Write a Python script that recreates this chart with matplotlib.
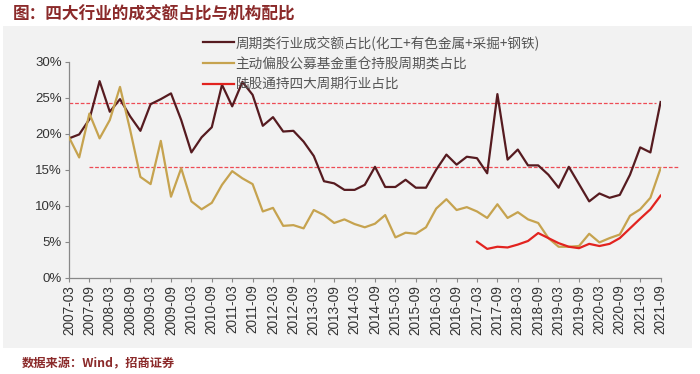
import matplotlib
matplotlib.use('Agg')
import matplotlib.pyplot as plt
from matplotlib.patches import Rectangle
import numpy as np

plt.rcParams['font.family'] = ['Noto Sans CJK SC', 'DejaVu Sans']

# Data (quarterly, 2007-03 .. 2021-09)
years = list(range(2007, 2022))
quarters = [f'{y}-{m}' for y in years for m in ['03', '06', '09', '12']][:59]
tick_labels = [q for q in quarters if q.endswith('-03') or q.endswith('-09')]

cyclical_turnover = [19.35, 19.9, 22.0, 27.3,
                     23.05, 24.8, 22.4, 20.4,
                     24.1, 24.8, 25.6, 21.9,
                     17.4, 19.5, 20.9, 26.8,
                     23.8, 27.2, 25.4, 21.1,
                     22.3, 20.3, 20.4, 18.9,
                     16.9, 13.4, 13.1, 12.2,
                     12.2, 12.9, 15.4, 12.6,
                     12.6, 13.6, 12.5, 12.5,
                     15.0, 17.1, 15.7, 16.8,
                     16.6, 14.5, 25.5, 16.4,
                     17.8, 15.6, 15.6, 14.3,
                     12.5, 15.4, 13.0, 10.6,
                     11.7, 11.1, 11.5, 14.3,
                     18.1, 17.4, 24.4]
fund_holding = [19.5, 16.7, 22.8, 19.35,
                21.9, 26.5, 20.5, 14.0,
                13.0, 19.0, 11.25, 15.2,
                10.6, 9.5, 10.4, 12.9,
                14.8, 13.8, 13.0, 9.2,
                9.7, 7.2, 7.3, 6.85,
                9.4, 8.7, 7.6, 8.1,
                7.45, 7.0, 7.5, 8.7,
                5.6, 6.25, 6.1, 7.0,
                9.6, 10.9, 9.4, 9.8,
                9.2, 8.3, 10.2, 8.3,
                9.1, 8.1, 7.6, 5.5,
                4.3, 4.3, 4.4, 6.1,
                4.9, 5.5, 6.0, 8.6,
                9.5, 11.1, 15.2]
# northbound holdings start at 2017-03
hk_connect = [5.0, 4.0, 4.3, 4.2,
              4.6, 5.1, 6.2, 5.5,
              4.8, 4.3, 4.1, 4.7,
              4.4, 4.7, 5.5, 6.85,
              8.2, 9.5, 11.4]
hk_start = quarters.index('2017-03')

upper_level = 24.3
lower_level = 15.4

labels = ['周期类行业成交额占比(化工+有色金属+采掘+钢铁)',
          '主动偏股公募基金重仓持股周期类占比',
          '陆股通持四大周期行业占比']
colors = ['#561b20', '#c6a34f', '#e2231f']

fig = plt.figure(figsize=(7.0, 3.74), dpi=100)
bg = Rectangle((3 / 700, 1 - 348 / 374), 689 / 700, 322 / 374,
               transform=fig.transFigure, facecolor='#f2f2f2',
               edgecolor='none', zorder=-10)
fig.add_artist(bg)

ax = fig.add_axes([69 / 700, 1 - 277.7 / 374, 591.6 / 700, 216 / 374])
ax.patch.set_alpha(0)

x = np.arange(len(quarters))
ax.plot(x, cyclical_turnover, color=colors[0], lw=1.6, label=labels[0], zorder=3)
ax.plot(x, fund_holding, color=colors[1], lw=1.6, label=labels[1], zorder=3)
ax.plot(np.arange(hk_start, hk_start + len(hk_connect)), hk_connect,
        color=colors[2], lw=1.6, label=labels[2], zorder=4)

# reference dashed lines
ax.plot([0, 57.5], [upper_level, upper_level], color='#ee4b55', lw=0.9,
        ls=(0, (3, 1.5)), zorder=2)
ax.plot([2, 59.7], [lower_level, lower_level], color='#ee4b55', lw=0.9,
        ls=(0, (3, 1.5)), zorder=2, clip_on=False)

ax.set_xlim(0, 58)
ax.set_ylim(0, 30)
ax.set_yticks(np.arange(0, 31, 5))
ax.set_yticklabels([f'{v}%' for v in range(0, 31, 5)], fontsize=9.5,
                   family='Liberation Sans', color='#333333')
ax.set_xticks(np.arange(0, len(quarters), 2))
ax.set_xticklabels(tick_labels, rotation=90, fontsize=9.8,
                   family='Liberation Sans', color='#333333')
ax.tick_params(axis='both', length=3, width=0.8, color='#888888', pad=2)

for s in ['top', 'right']:
    ax.spines[s].set_visible(False)
for s in ['left', 'bottom']:
    ax.spines[s].set_color('#888888')
    ax.spines[s].set_linewidth(0.9)

ax.legend(loc='upper left', bbox_to_anchor=(203 / 700, 1 - 35 / 374),
          bbox_transform=fig.transFigure, frameon=False, fontsize=9.8,
          handlelength=2.3, handletextpad=0.1, labelspacing=0.53,
          borderpad=0, borderaxespad=0, labelcolor='#555555')

fig.text(13 / 700, 1 - 14 / 374, '图：四大行业的成交额占比与机构配比',
         fontsize=12, color='#8b2a2a', ha='left', va='center', weight='bold')
fig.text(22 / 700, 1 - 364 / 374, '数据来源：Wind，招商证券',
         fontsize=8.8, color='#8b2a2a', ha='left', va='center', weight='bold')

fig.savefig('out.png', dpi=100)
